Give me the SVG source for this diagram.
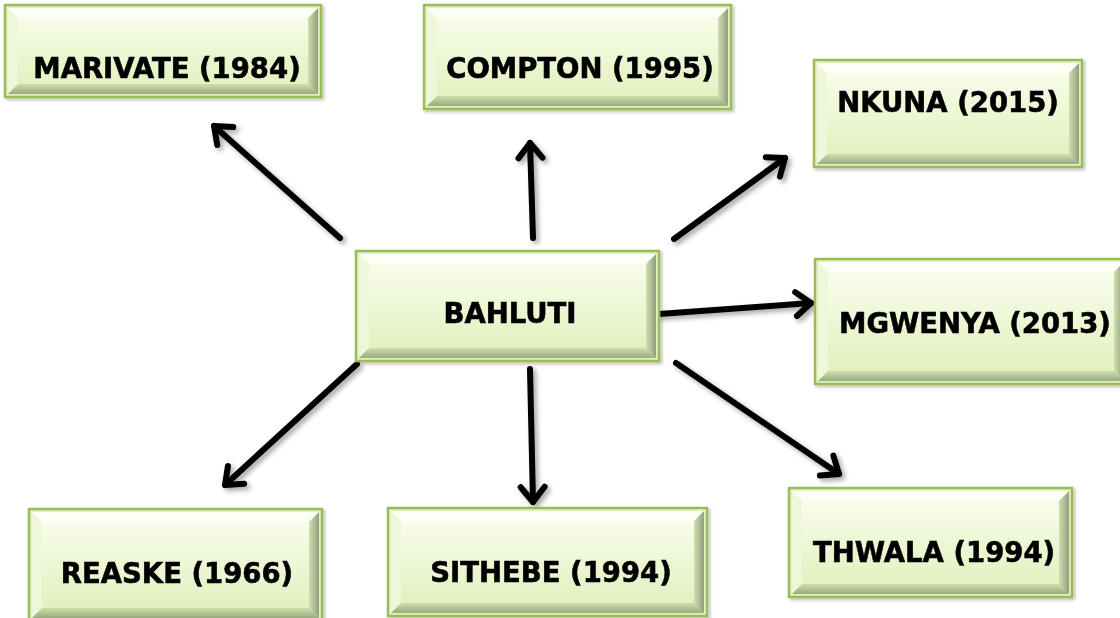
<svg xmlns="http://www.w3.org/2000/svg" width="1120" height="618" viewBox="0 0 1120 618">
<style>
.frame{fill:#e3f1c2;stroke:#9bbb59;stroke-width:2.5}
.face{fill:url(#faceGrad)}
.bt{fill:#fdfff7}
.bl{fill:#eef7da}
.br{fill:url(#rightGrad)}
.bb{fill:url(#bottomGrad)}
.lbl{font-family:"DejaVu Sans",Verdana,sans-serif;font-weight:bold;font-size:27.5px;fill:#000;stroke:#000;stroke-width:0.6;text-anchor:middle}
.conn line{stroke:#000;stroke-width:6;stroke-linecap:round;marker-end:url(#head)}
</style>
<defs>
<linearGradient id="faceGrad" x1="0" y1="0" x2="0" y2="1">
<stop offset="0" stop-color="#fbfef2"/>
<stop offset="0.35" stop-color="#f1f9dc"/>
<stop offset="1" stop-color="#e0efbb"/>
</linearGradient>
<linearGradient id="rightGrad" x1="0" y1="0" x2="1" y2="0">
<stop offset="0" stop-color="#d0dfae"/>
<stop offset="1" stop-color="#8f9e7e"/>
</linearGradient>
<linearGradient id="bottomGrad" x1="0" y1="0" x2="0" y2="1">
<stop offset="0" stop-color="#cfdfab"/>
<stop offset="1" stop-color="#98ab80"/>
</linearGradient>
<filter id="sh" x="-10%" y="-10%" width="130%" height="130%">
<feDropShadow dx="2" dy="2" stdDeviation="1.5" flood-color="#000" flood-opacity="0.25"/>
</filter>
<filter id="ash" x="-20%" y="-20%" width="140%" height="140%">
<feDropShadow dx="3" dy="3" stdDeviation="2.5" flood-color="#000" flood-opacity="0.35"/>
</filter>
<marker id="head" markerUnits="userSpaceOnUse" markerWidth="30" markerHeight="30" refX="0" refY="0" orient="auto" overflow="visible">
<path d="M-15,-12 L0,0 L-15,12" fill="none" stroke="#000" stroke-width="6" stroke-linecap="round" stroke-linejoin="round"/>
</marker>
</defs>
<rect width="1120" height="618" fill="#fff"/>

<g class="conn" filter="url(#ash)">
<line x1="340" y1="238" x2="214" y2="126"/>
<line x1="533" y1="238" x2="530" y2="143"/>
<line x1="674" y1="239" x2="785" y2="158"/>
<line x1="659" y1="314" x2="811" y2="303"/>
<line x1="676" y1="363" x2="839" y2="474"/>
<line x1="530" y1="369" x2="533" y2="502"/>
<line x1="357" y1="364" x2="225" y2="485"/>
</g>

<g id="marivate" filter="url(#sh)">
<rect class="frame" x="5" y="5" width="316" height="92"/>
<rect class="face" x="8" y="8" width="310" height="86"/>
<polygon class="bt" points="8,8 318,8 308,18 18,18"/>
<polygon class="bl" points="8,8 18,18 18,84 8,94"/>
<polygon class="br" points="318,8 318,94 308,84 308,18"/>
<polygon class="bb" points="8,94 18,84 308,84 318,94"/>
<text class="lbl" x="167" y="78">MARIVATE (1984)</text>
</g>

<g id="compton" filter="url(#sh)">
<rect class="frame" x="424" y="5" width="307" height="104"/>
<rect class="face" x="427" y="8" width="301" height="98"/>
<polygon class="bt" points="427,8 728,8 718,18 437,18"/>
<polygon class="bl" points="427,8 437,18 437,96 427,106"/>
<polygon class="br" points="728,8 728,106 718,96 718,18"/>
<polygon class="bb" points="427,106 437,96 718,96 728,106"/>
<text class="lbl" x="580" y="78">COMPTON (1995)</text>
</g>

<g id="nkuna" filter="url(#sh)">
<rect class="frame" x="814" y="60" width="268" height="107"/>
<rect class="face" x="817" y="63" width="262" height="101"/>
<polygon class="bt" points="817,63 1079,63 1069,73 827,73"/>
<polygon class="bl" points="817,63 827,73 827,154 817,164"/>
<polygon class="br" points="1079,63 1079,164 1069,154 1069,73"/>
<polygon class="bb" points="817,164 827,154 1069,154 1079,164"/>
<text class="lbl" x="948" y="112">NKUNA (2015)</text>
</g>

<g id="mgwenya" filter="url(#sh)">
<rect class="frame" x="815" y="259" width="312" height="125"/>
<rect class="face" x="818" y="262" width="306" height="119"/>
<polygon class="bt" points="818,262 1124,262 1114,272 828,272"/>
<polygon class="bl" points="818,262 828,272 828,371 818,381"/>
<polygon class="br" points="1124,262 1124,381 1114,371 1114,272"/>
<polygon class="bb" points="818,381 828,371 1114,371 1124,381"/>
<text class="lbl" x="975" y="333">MGWENYA (2013)</text>
</g>

<g id="bahluti" filter="url(#sh)">
<rect class="frame" x="356" y="251" width="303" height="110"/>
<rect class="face" x="359" y="254" width="297" height="104"/>
<polygon class="bt" points="359,254 656,254 646,264 369,264"/>
<polygon class="bl" points="359,254 369,264 369,348 359,358"/>
<polygon class="br" points="656,254 656,358 646,348 646,264"/>
<polygon class="bb" points="359,358 369,348 646,348 656,358"/>
<text class="lbl" x="510" y="323">BAHLUTI</text>
</g>

<g id="thwala" filter="url(#sh)">
<rect class="frame" x="789" y="488" width="283" height="109"/>
<rect class="face" x="792" y="491" width="277" height="103"/>
<polygon class="bt" points="792,491 1069,491 1059,501 802,501"/>
<polygon class="bl" points="792,491 802,501 802,584 792,594"/>
<polygon class="br" points="1069,491 1069,594 1059,584 1059,501"/>
<polygon class="bb" points="792,594 802,584 1059,584 1069,594"/>
<text class="lbl" x="934" y="562">THWALA (1994)</text>
</g>

<g id="sithebe" filter="url(#sh)">
<rect class="frame" x="388" y="508" width="319" height="108"/>
<rect class="face" x="391" y="511" width="313" height="102"/>
<polygon class="bt" points="391,511 704,511 694,521 401,521"/>
<polygon class="bl" points="391,511 401,521 401,603 391,613"/>
<polygon class="br" points="704,511 704,613 694,603 694,521"/>
<polygon class="bb" points="391,613 401,603 694,603 704,613"/>
<text class="lbl" x="551" y="582">SITHEBE (1994)</text>
</g>

<g id="reaske" filter="url(#sh)">
<rect class="frame" x="29" y="509" width="293" height="112"/>
<rect class="face" x="32" y="512" width="287" height="106"/>
<polygon class="bt" points="32,512 319,512 309,522 42,522"/>
<polygon class="bl" points="32,512 42,522 42,608 32,618"/>
<polygon class="br" points="319,512 319,618 309,608 309,522"/>
<polygon class="bb" points="32,618 42,608 309,608 319,618"/>
<text class="lbl" x="177" y="583">REASKE (1966)</text>
</g>
</svg>
